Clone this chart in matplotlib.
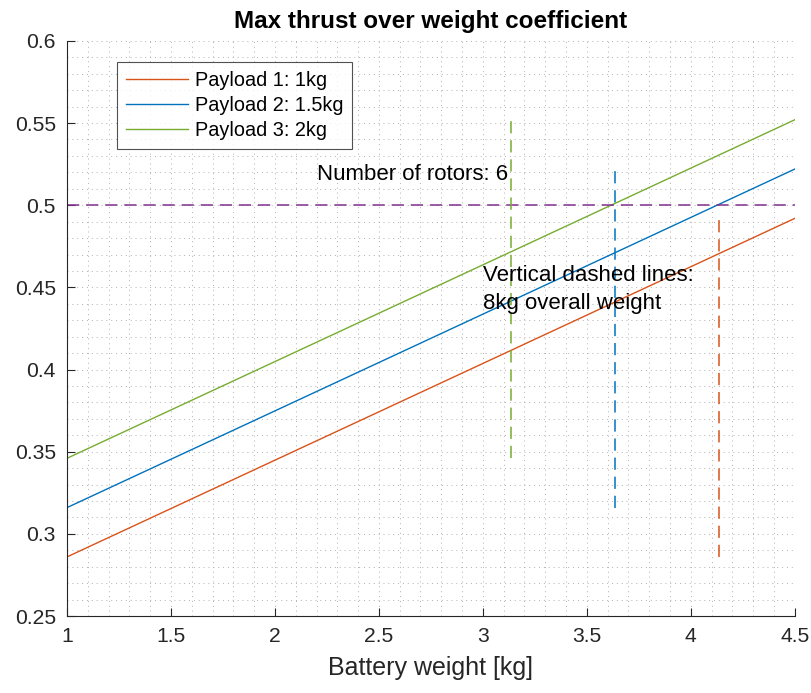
import numpy as np
import matplotlib.pyplot as plt
from matplotlib.ticker import MultipleLocator, FormatStrFormatter

plt.rcParams['font.family'] = ['Liberation Sans', 'DejaVu Sans']

# battery weight range and thrust/weight coefficients at its ends
battery = [1.0, 4.5]
payload_1 = [0.286, 0.492]
payload_2 = [0.316, 0.522]
payload_3 = [0.346, 0.552]
labels = ['Payload 1: 1kg', 'Payload 2: 1.5kg', 'Payload 3: 2kg']

# battery weight where the overall weight reaches 8kg
limit_x = [4.135, 3.635, 3.135]
limit_level = 0.5

colors = ['#D95319', '#0072BD', '#77AC30']

fig = plt.figure(figsize=(8.11, 6.93), dpi=100)
ax = fig.add_axes([0.0826, 0.111, 0.8974, 0.830])

series = [payload_1, payload_2, payload_3]
for vals, lab, c in zip(series, labels, colors):
    ax.plot(battery, vals, color=c, lw=1.0, label=lab)

ax.axhline(limit_level, color='#7E2F8E', lw=1.1, dashes=(8, 4.5))
for x, vals, c in zip(limit_x, series, colors):
    ax.plot([x, x], [vals[0], vals[1]], color=c, lw=1.1, dashes=(8, 4.5))

ax.text(2.2, 0.519, 'Number of rotors: 6', fontsize=16, va='center')
ax.text(3.0, 0.457, 'Vertical dashed lines:', fontsize=16, va='center')
ax.text(3.0, 0.440, '8kg overall weight', fontsize=16, va='center')

ax.set_xlim(1, 4.5)
ax.set_ylim(0.25, 0.6)
ax.xaxis.set_major_locator(MultipleLocator(0.5))
ax.yaxis.set_major_locator(MultipleLocator(0.05))
ax.xaxis.set_minor_locator(MultipleLocator(0.1))
ax.yaxis.set_minor_locator(MultipleLocator(0.01))
ax.xaxis.set_major_formatter(FormatStrFormatter('%g'))
ax.yaxis.set_major_formatter(FormatStrFormatter('%g'))
ax.tick_params(which='major', direction='in', length=6, labelsize=15.2,
               colors='#262626', width=0.8, pad=8)
ax.tick_params(which='minor', length=0)
ax.grid(which='both', color='#b0b0b0', ls=(0, (1, 4)), lw=0.7)
ax.set_axisbelow(True)

for s in ['top', 'right']:
    ax.spines[s].set_visible(False)
for s in ['left', 'bottom']:
    ax.spines[s].set_color('#262626')
    ax.spines[s].set_linewidth(0.8)

ax.set_xlabel('Battery weight [kg]', fontsize=18, color='#262626', labelpad=7)
ax.set_title('Max thrust over weight coefficient', fontsize=17.5,
             fontweight='bold', pad=9)

leg = ax.legend(loc='upper left', bbox_to_anchor=(0.069, 0.963), fontsize=14.3,
                frameon=True, fancybox=False, edgecolor='#262626',
                handlelength=3.1, handletextpad=0.35, borderpad=0.45,
                labelspacing=0.3, borderaxespad=0)
leg.get_frame().set_linewidth(0.8)

plt.savefig('out.png')
